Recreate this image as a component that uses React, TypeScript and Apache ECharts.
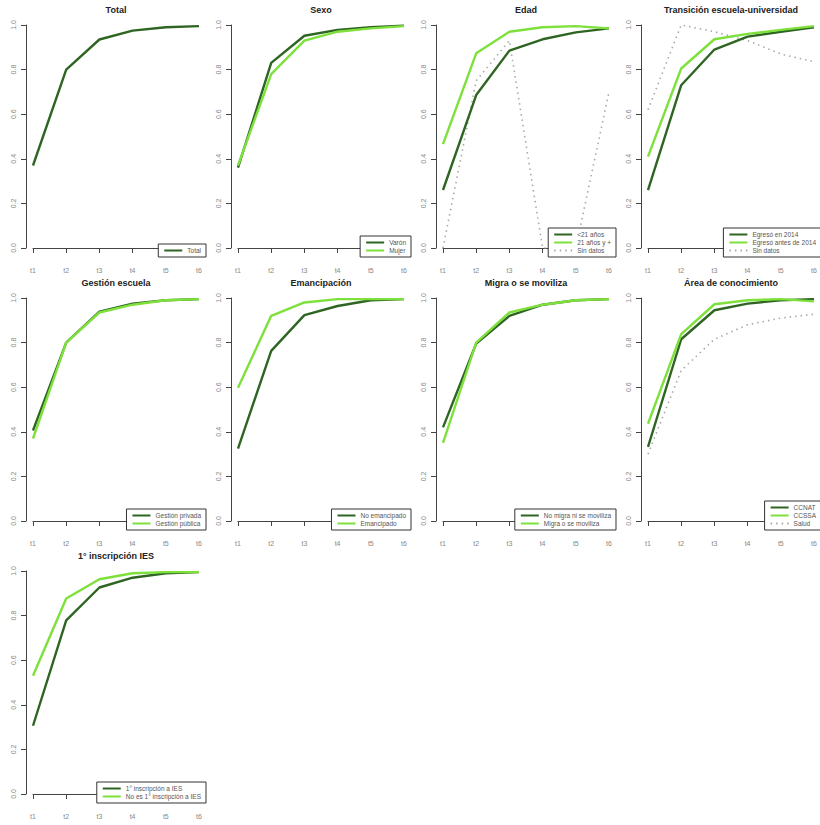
import React, { useEffect, useRef } from "react";
import * as echarts from "echarts";

const xLabels = ["t1", "t2", "t3", "t4", "t5", "t6"];
const yTicks = [0, 0.2, 0.4, 0.6, 0.8, 1.0];

const totalVals = [0.37, 0.8, 0.935, 0.975, 0.99, 0.995];

const varonVals = [0.36, 0.83, 0.952, 0.978, 0.99, 0.997];
const mujerVals = [0.37, 0.78, 0.93, 0.97, 0.985, 0.995];

const menor21Vals = [0.26, 0.686, 0.885, 0.936, 0.967, 0.985];
const mayor21Vals = [0.466, 0.873, 0.97, 0.99, 0.995, 0.985];
const edadSinDatosVals = [0.0, 0.75, 0.93, 0.0, 0.0, 0.7];

const egreso2014Vals = [0.26, 0.73, 0.89, 0.948, 0.97, 0.99];
const egresoAntesVals = [0.41, 0.805, 0.936, 0.96, 0.978, 0.995];
const transSinDatosVals = [0.62, 1.0, 0.97, 0.93, 0.87, 0.835];

const privadaVals = [0.406, 0.8, 0.939, 0.975, 0.99, 0.995];
const publicaVals = [0.37, 0.8, 0.935, 0.97, 0.99, 0.995];

const noEmancVals = [0.325, 0.763, 0.923, 0.964, 0.99, 0.995];
const emancVals = [0.597, 0.92, 0.98, 0.995, 0.995, 0.995];

const noMigraVals = [0.42, 0.796, 0.92, 0.97, 0.99, 0.995];
const migraVals = [0.35, 0.8, 0.935, 0.97, 0.99, 0.995];

const ccnatVals = [0.332, 0.815, 0.945, 0.975, 0.99, 0.995];
const ccssaVals = [0.436, 0.838, 0.972, 0.99, 0.995, 0.985];
const saludVals = [0.3, 0.675, 0.815, 0.88, 0.91, 0.927];

const primeraVals = [0.306, 0.779, 0.926, 0.97, 0.99, 0.995];
const noPrimeraVals = [0.53, 0.877, 0.963, 0.99, 0.995, 0.995];

type Kind = "dark" | "light" | "dot";
interface Ser { name: string; data: number[]; kind: Kind }
interface Panel { title: string; series: Ser[] }

const panels: Panel[] = [
  { title: "Total", series: [{ name: "Total", data: totalVals, kind: "dark" }] },
  {
    title: "Sexo",
    series: [
      { name: "Varón", data: varonVals, kind: "dark" },
      { name: "Mujer", data: mujerVals, kind: "light" },
    ],
  },
  {
    title: "Edad",
    series: [
      { name: "<21 años", data: menor21Vals, kind: "dark" },
      { name: "21 años y +", data: mayor21Vals, kind: "light" },
      { name: "Sin datos", data: edadSinDatosVals, kind: "dot" },
    ],
  },
  {
    title: "Transición escuela-universidad",
    series: [
      { name: "Egresó en 2014", data: egreso2014Vals, kind: "dark" },
      { name: "Egresó antes de 2014", data: egresoAntesVals, kind: "light" },
      { name: "Sin datos ", data: transSinDatosVals, kind: "dot" },
    ],
  },
  {
    title: "Gestión escuela",
    series: [
      { name: "Gestión privada", data: privadaVals, kind: "dark" },
      { name: "Gestión pública", data: publicaVals, kind: "light" },
    ],
  },
  {
    title: "Emancipación",
    series: [
      { name: "No emancipado", data: noEmancVals, kind: "dark" },
      { name: "Emancipado", data: emancVals, kind: "light" },
    ],
  },
  {
    title: "Migra o se moviliza",
    series: [
      { name: "No migra ni se moviliza", data: noMigraVals, kind: "dark" },
      { name: "Migra o se moviliza", data: migraVals, kind: "light" },
    ],
  },
  {
    title: "Área de conocimiento",
    series: [
      { name: "CCNAT", data: ccnatVals, kind: "dark" },
      { name: "CCSSA", data: ccssaVals, kind: "light" },
      { name: "Salud", data: saludVals, kind: "dot" },
    ],
  },
  {
    title: "1° inscripción IES",
    series: [
      { name: "1° inscripción a IES", data: primeraVals, kind: "dark" },
      { name: "No es 1° inscripción a IES", data: noPrimeraVals, kind: "light" },
    ],
  },
];

const DARK = "#2f6522";
const LIGHT = "#7ee03a";
const DOT = "#a8a8a8";
const FONT = "'Liberation Sans', Arial, sans-serif";

function buildOption() {
  const grids: any[] = [];
  const xAxes: any[] = [];
  const yAxes: any[] = [];
  const series: any[] = [];
  const legends: any[] = [];
  const graphics: any[] = [];

  panels.forEach((p, i) => {
    const r = Math.floor(i / 4);
    const c = i % 4;
    const left = 33 + 205 * c;
    const top = 25 + 273 * r;
    const w = 166;
    const h = 223;
    grids.push({ left, top, width: w, height: h, containLabel: false });
    xAxes.push({
      type: "category",
      gridIndex: i,
      data: xLabels,
      boundaryGap: false,
      offset: 9,
      axisLine: { show: true, lineStyle: { color: "#444", width: 1 } },
      axisTick: { show: true, length: 5, lineStyle: { color: "#444" } },
      axisLabel: { fontSize: 7, color: "#888", margin: 10, fontFamily: FONT },
      splitLine: { show: false },
    });
    yAxes.push({
      type: "value",
      gridIndex: i,
      min: 0,
      max: 1,
      interval: 0.2,
      offset: 7,
      axisLine: { show: true, lineStyle: { color: "#444", width: 1 } },
      axisTick: { show: true, length: 5, lineStyle: { color: "#444" } },
      axisLabel: {
        fontSize: 7,
        color: "#888",
        rotate: 90,
        margin: 9,
        fontFamily: FONT,
        formatter: (v: number) => (yTicks.some((t) => Math.abs(t - v) < 1e-9) ? v.toFixed(1) : ""),
      },
      splitLine: { show: false },
    });
    const names: string[] = [];
    p.series.forEach((s) => {
      names.push(s.name);
      const color = s.kind === "dark" ? DARK : s.kind === "light" ? LIGHT : DOT;
      series.push({
        type: "line",
        name: s.name,
        xAxisIndex: i,
        yAxisIndex: i,
        data: s.data,
        symbol: "none",
        showSymbol: false,
        z: s.kind === "dot" ? 1 : s.kind === "dark" ? 2 : 3,
        lineStyle: {
          color,
          width: s.kind === "dot" ? 1.6 : 2.4,
          type: s.kind === "dot" ? [1.5, 4] : "solid",
        },
        itemStyle: { color },
      });
    });
    legends.push({
      data: names,
      orient: "vertical",
      right: 820 - (left + w + 7),
      bottom: 825 - (top + h + 9),
      align: "left",
      itemWidth: 18,
      itemHeight: 6,
      itemGap: 1,
      padding: [3, 5, 3, 5],
      borderColor: "#333",
      borderWidth: 1,
      borderRadius: 0,
      backgroundColor: "#fff",
      selectedMode: false,
      itemStyle: { opacity: 0 },
      textStyle: { fontSize: 6.5, color: "#555", fontFamily: FONT },
      z: 10,
    });
    graphics.push({
      type: "text",
      x: left + w / 2,
      y: 10 + 273 * r,
      style: {
        text: p.title,
        fontSize: 9,
        fontWeight: "bold",
        fontFamily: FONT,
        fill: "#222",
        textAlign: "center",
        textVerticalAlign: "middle",
      },
    });
  });

  return {
    animation: false,
    backgroundColor: "#fff",
    grid: grids,
    xAxis: xAxes,
    yAxis: yAxes,
    series,
    legend: legends,
    graphic: graphics,
  };
}

export default function App() {
  const ref = useRef<HTMLDivElement>(null);
  useEffect(() => {
    if (!ref.current) return;
    const chart = echarts.init(ref.current, undefined, { renderer: "svg" });
    chart.setOption(buildOption() as any);
    return () => chart.dispose();
  }, []);
  return (
    <div
      ref={ref}
      style={{ position: "fixed", left: 0, top: 0, width: 820, height: 825, background: "#fff" }}
    />
  );
}
